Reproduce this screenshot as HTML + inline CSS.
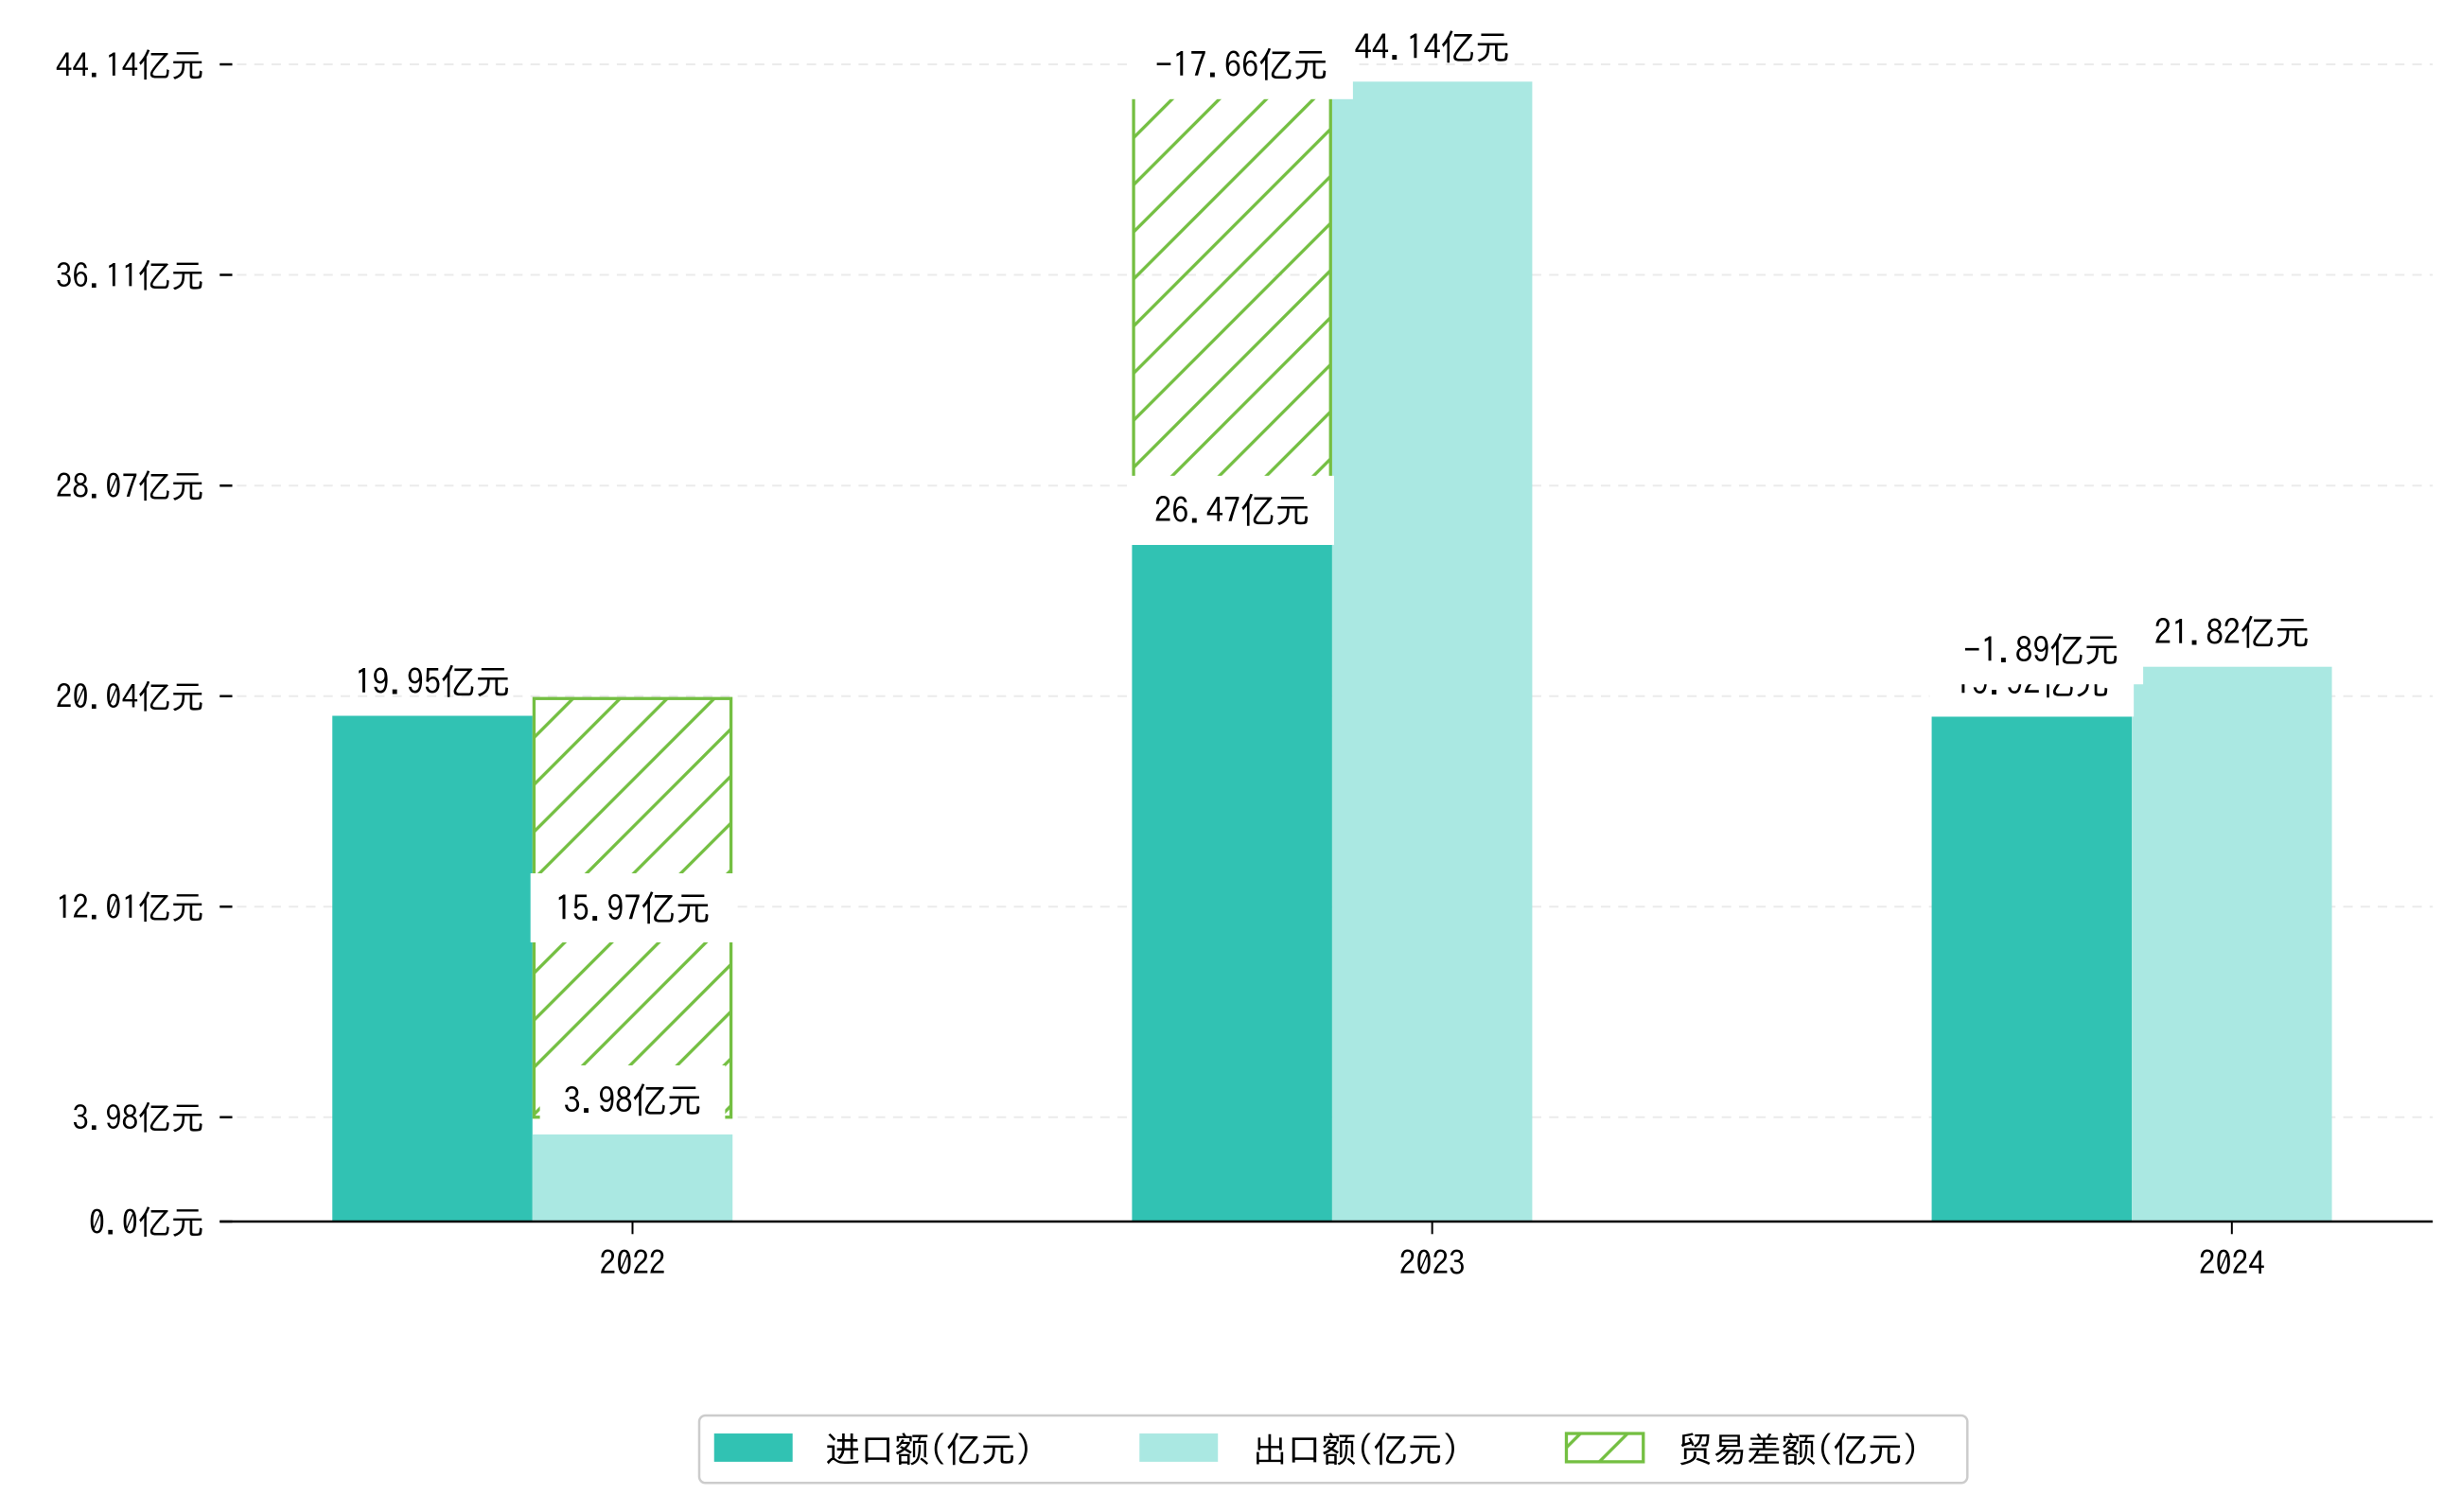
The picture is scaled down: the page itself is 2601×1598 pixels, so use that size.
<!DOCTYPE html>
<html><head><meta charset="utf-8"><style>
html,body{margin:0;padding:0;background:#fff;}
svg{display:block;font-family:"IPAGothic","Noto Sans CJK SC",sans-serif;}
</style></head><body>
<svg id="chart" width="2601" height="1598" viewBox="0 0 1568 963" preserveAspectRatio="none" xmlns="http://www.w3.org/2000/svg">
<defs>
<pattern id="hatch" patternUnits="userSpaceOnUse" width="30" height="30">
<path d="M-5,35 L35,-5 M-5,5 L5,-5 M25,35 L35,25" stroke="#74bf42" stroke-width="2"/>
</pattern>
</defs>
<g id="grid"></g><g id="bars"></g><g id="labels"></g><g id="labels2"></g><g id="axes"></g>
<g>
<rect x="445.5" y="901.5" width="808" height="43" rx="4" fill="#fff" stroke="#ccc" stroke-width="1.5"/>
<rect x="455" y="913" width="50" height="18" fill="#31c2b3"/>
<text x="526" y="931" font-size="22">进口额(亿元)</text>
<rect x="726" y="913" width="50" height="18" fill="#aae8e2"/>
<text x="798" y="931" font-size="22">出口额(亿元)</text>
<rect x="998" y="913" width="49" height="18" fill="url(#hatch)" stroke="#74bf42" stroke-width="2"/>
<text x="1069" y="931" font-size="22">贸易差额(亿元)</text>
</g>
</svg>
<script>
const categories = ["2022", "2023", "2024"];
const importVals = [19.95, 26.47, 19.92];
const exportVals = [3.98, 44.14, 21.82];
const balanceVals = [15.97, -17.66, -1.89];
const tickVals = [0.0, 3.98, 12.01, 20.04, 28.07, 36.11, 44.14];

const NS = "http://www.w3.org/2000/svg";
const PX = 16.697;
function yTick(v){ return 778 - v*PX; }
function yBar(v){ return 789 - v*PX; }
function xCat(i){ return 403 + i*509.5; }
const BW = 127.5;
const BASE = 778;
function mk(tag, attrs, parent, txt){
  const e = document.createElementNS(NS, tag);
  for (const k in attrs) e.setAttribute(k, attrs[k]);
  if (txt !== undefined) e.textContent = txt;
  parent.appendChild(e); return e;
}
const grid = document.getElementById('grid'), bars = document.getElementById('bars'),
      labels = document.getElementById('labels'), labels2 = document.getElementById('labels2'),
      axes = document.getElementById('axes');

tickVals.forEach(function(t){
  const y = yTick(t);
  if (t > 0) {
    const g = mk('line', {x1:140, x2:1550, y1:y, y2:y, stroke:'#ebebeb', 'stroke-dasharray':'6,5', 'stroke-width':1.2}, grid);
    
    
  }
  const tk = mk('line', {x1:140, x2:148, y1:y, y2:y, stroke:'#000', 'stroke-width':1.5}, axes);
  
  
  const lb = mk('text', {x:130, y:y+8, 'font-size':21, 'text-anchor':'end'}, axes, (t===0?'0.0':t.toFixed(2)) + '亿元');
  
  
});

function label(layer, x, y, txt, box, name){
  if (box) {
    const w = (txt.length-2)*12 + 2*24 + 22;
    const r = mk('rect', {x:x-w/2, y:y-22, width:w, height:44, fill:'#fff'}, layer);
    
    
  }
  const t = mk('text', {x:x, y:y+8, 'font-size':22, 'text-anchor':'middle'}, layer, txt);
  
  
}

categories.forEach(function(c, i){
  const cx = xCat(i);
  const xi = cx - 1.5*BW, xe = cx - 0.5*BW;
  const ti = yBar(importVals[i]);
  const bi = mk('rect', {x:xi, y:ti, width:BW, height:BASE-ti, fill:'#31c2b3'}, bars);
  
  
  const te = yBar(exportVals[i]);
  const be = mk('rect', {x:xe, y:te, width:BW, height:BASE-te, fill:'#aae8e2'}, bars);
  
  
  const bal = balanceVals[i];
  const lo = Math.min(importVals[i], exportVals[i]), hi = lo + Math.abs(bal);
  const hx = bal >= 0 ? xe : xi;
  const hb = mk('rect', {x:hx+1, y:yTick(hi), width:BW-2, height:yTick(lo)-yTick(hi), fill:'url(#hatch)', stroke:'#74bf42', 'stroke-width':2}, bars);
  
  

  label(labels, xi + BW/2, ti - 22, importVals[i].toFixed(2) + '亿元', i !== 0, 'import-value-label');
  label(labels, xe + BW/2, te - 22, exportVals[i].toFixed(2) + '亿元', i === 0, 'export-value-label');
  const ly = bal >= 0 ? yTick((lo+hi)/2) : yTick(hi);
  label(labels2, hx + BW/2 + (bal>=0?0:6), ly, bal.toFixed(2) + '亿元', true, 'balance-value-label');

  const xt = mk('line', {x1:cx, x2:cx, y1:778, y2:786, stroke:'#000', 'stroke-width':1.2}, axes);
  
  
  const xl = mk('text', {x:cx, y:812, 'font-size':21, 'text-anchor':'middle'}, axes, c);
  
  
});
const ax = mk('line', {x1:140, x2:1550, y1:778, y2:778, stroke:'#000', 'stroke-width':1.5}, axes);


</script>
</body></html>
